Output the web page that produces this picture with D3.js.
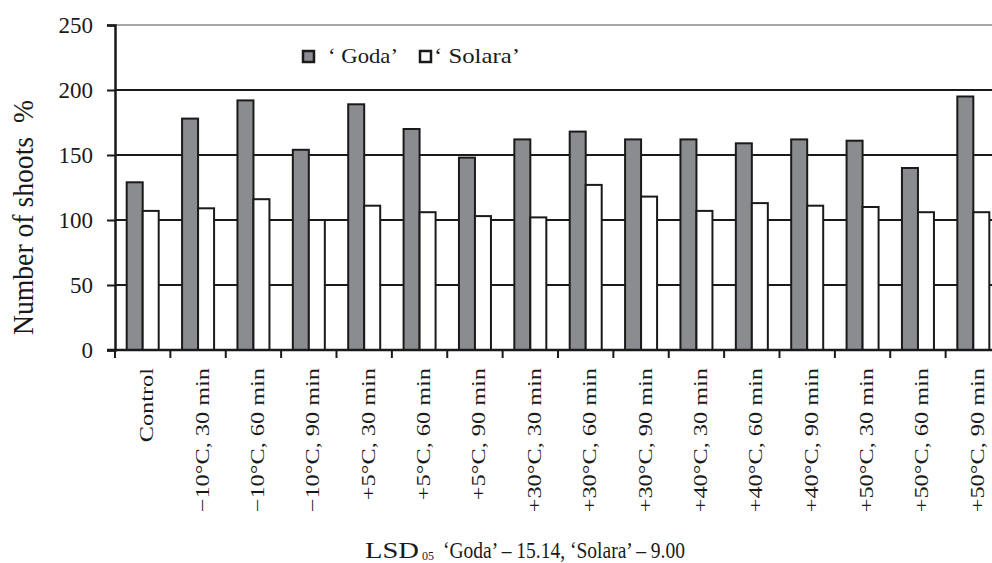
<!DOCTYPE html>
<html>
<head>
<meta charset="utf-8">
<script src="https://cdn.jsdelivr.net/npm/d3@7"></script>
<style>
  body { margin: 0; background: #fff; }
  svg { display: block; }
  svg text { font-family: "Liberation Serif", "DejaVu Serif", serif; fill: #1a1a1a; }
</style>
</head>
<body>
<div id="chart"></div>
<script>
// Number of shoots, % of control
const categories = ["Control", "−10°C, 30 min", "−10°C, 60 min", "−10°C, 90 min",
  "+5°C, 30 min", "+5°C, 60 min", "+5°C, 90 min",
  "+30°C, 30 min", "+30°C, 60 min", "+30°C, 90 min",
  "+40°C, 30 min", "+40°C, 60 min", "+40°C, 90 min",
  "+50°C, 30 min", "+50°C, 60 min", "+50°C, 90 min"];
const series = ["Goda", "Solara"];
const goda = [129, 178, 192, 154, 189, 170, 148, 162, 168, 162, 162, 159, 162, 161, 140, 195];
const solara = [107, 109, 116, 100, 111, 106, 103, 102, 127, 118, 107, 113, 111, 110, 106, 106];
const yTicks = [0, 50, 100, 150, 200, 250];

const W = 992, H = 563;
const svg = d3.select("#chart").append("svg")
  .attr("width", W).attr("height", H);

// plot area (chart is cropped at the right edge, like the original)
const plotL = 115, plotR = 1001, plotT = 25, plotB = 350;

const x0 = d3.scaleBand().domain(categories).range([plotL, plotR]);
const x1 = d3.scaleBand().domain(series).range([11.7, 43.7]);
const y = d3.scaleLinear().domain([0, 250]).range([plotB, plotT]);

// gridlines behind bars
svg.append("g")
  .selectAll("line")
  .data(yTicks.filter(d => d > 0))
  .join("line")
  .attr("x1", plotL).attr("x2", W)
  .attr("y1", d => y(d)).attr("y2", d => y(d))
  .attr("stroke", d => d === 250 ? "#8a8a8a" : "#1a1a1a")
  .attr("stroke-width", d => d === 250 ? 1.5 : 2);

// bars
const rows = categories.map((c, i) => ({ cat: c, Goda: goda[i], Solara: solara[i] }));
svg.append("g")
  .selectAll("g")
  .data(rows)
  .join("g")
  .attr("transform", d => `translate(${x0(d.cat)},0)`)
  .selectAll("rect")
  .data(d => series.map(s => ({ key: s, value: d[s] })))
  .join("rect")
  .attr("x", d => x1(d.key))
  .attr("width", x1.bandwidth())
  .attr("y", d => y(d.value))
  .attr("height", d => y(0) - y(d.value))
  .attr("fill", d => d.key === "Goda" ? "#8b8c90" : "#fff")
  .attr("stroke", "#1a1a1a")
  .attr("stroke-width", 2);

// y axis
const yAxis = svg.append("g")
  .attr("transform", `translate(${plotL},0)`)
  .call(d3.axisLeft(y).tickValues(yTicks).tickSize(8).tickPadding(14));
yAxis.select(".domain").attr("stroke", "#1a1a1a").attr("stroke-width", 2.5);
yAxis.selectAll(".tick line").attr("stroke", "#1a1a1a").attr("stroke-width", 2);
yAxis.selectAll(".tick text")
  .attr("font-size", 23)
  .attr("dy", "0.34em");

// x axis: ticks at category boundaries
const xAxisG = svg.append("g");
xAxisG.append("line")
  .attr("x1", plotL - 8).attr("x2", W)
  .attr("y1", plotB).attr("y2", plotB)
  .attr("stroke", "#1a1a1a").attr("stroke-width", 2.5);
xAxisG.selectAll(".xt")
  .data(categories)
  .join("line")
  .attr("class", "xt")
  .attr("x1", d => x0(d)).attr("x2", d => x0(d))
  .attr("y1", plotB).attr("y2", plotB + 8)
  .attr("stroke", "#1a1a1a").attr("stroke-width", 2);

// rotated category labels (stretched along the text like the original)
xAxisG.selectAll(".xl")
  .data(categories)
  .join("text")
  .attr("class", "xl")
  .attr("transform", d => `translate(${x0(d) + x0.bandwidth() / 2 + 10.5},368) rotate(-90) scale(1.28,1)`)
  .attr("text-anchor", "end")
  .attr("font-size", 19)
  .text(d => d);

// y axis title
svg.append("text")
  .attr("transform", "translate(33,335) rotate(-90)")
  .attr("font-size", 29)
  .attr("textLength", 235)
  .attr("lengthAdjust", "spacingAndGlyphs")
  .attr("xml:space", "preserve")
  .text("Number of shoots  %");

// legend
const legendItems = [
  { name: "Goda", box: 303, tx: 328, len: 70 },
  { name: "Solara", box: 420, tx: 434, len: 86 }
];
const legend = svg.append("g");
legendItems.forEach(it => {
  legend.append("rect")
    .attr("x", it.box).attr("y", 51)
    .attr("width", 11).attr("height", 11)
    .attr("fill", it.name === "Goda" ? "#8b8c90" : "#fff")
    .attr("stroke", "#1a1a1a").attr("stroke-width", 2.5);
  legend.append("text")
    .attr("x", it.tx).attr("y", 63)
    .attr("font-size", 21)
    .attr("textLength", it.len)
    .attr("lengthAdjust", "spacingAndGlyphs")
    .text(`‘ ${it.name}’`);
});

// bottom note
svg.append("text")
  .attr("x", 365).attr("y", 558)
  .attr("font-size", 23)
  .attr("textLength", 54)
  .attr("lengthAdjust", "spacingAndGlyphs")
  .text("LSD");
svg.append("text")
  .attr("x", 422).attr("y", 560)
  .attr("font-size", 12)
  .text("05");
svg.append("text")
  .attr("x", 443).attr("y", 558)
  .attr("font-size", 23)
  .attr("textLength", 242)
  .attr("lengthAdjust", "spacingAndGlyphs")
  .text("‘Goda’ – 15.14, ‘Solara’ – 9.00");
</script>
</body>
</html>
